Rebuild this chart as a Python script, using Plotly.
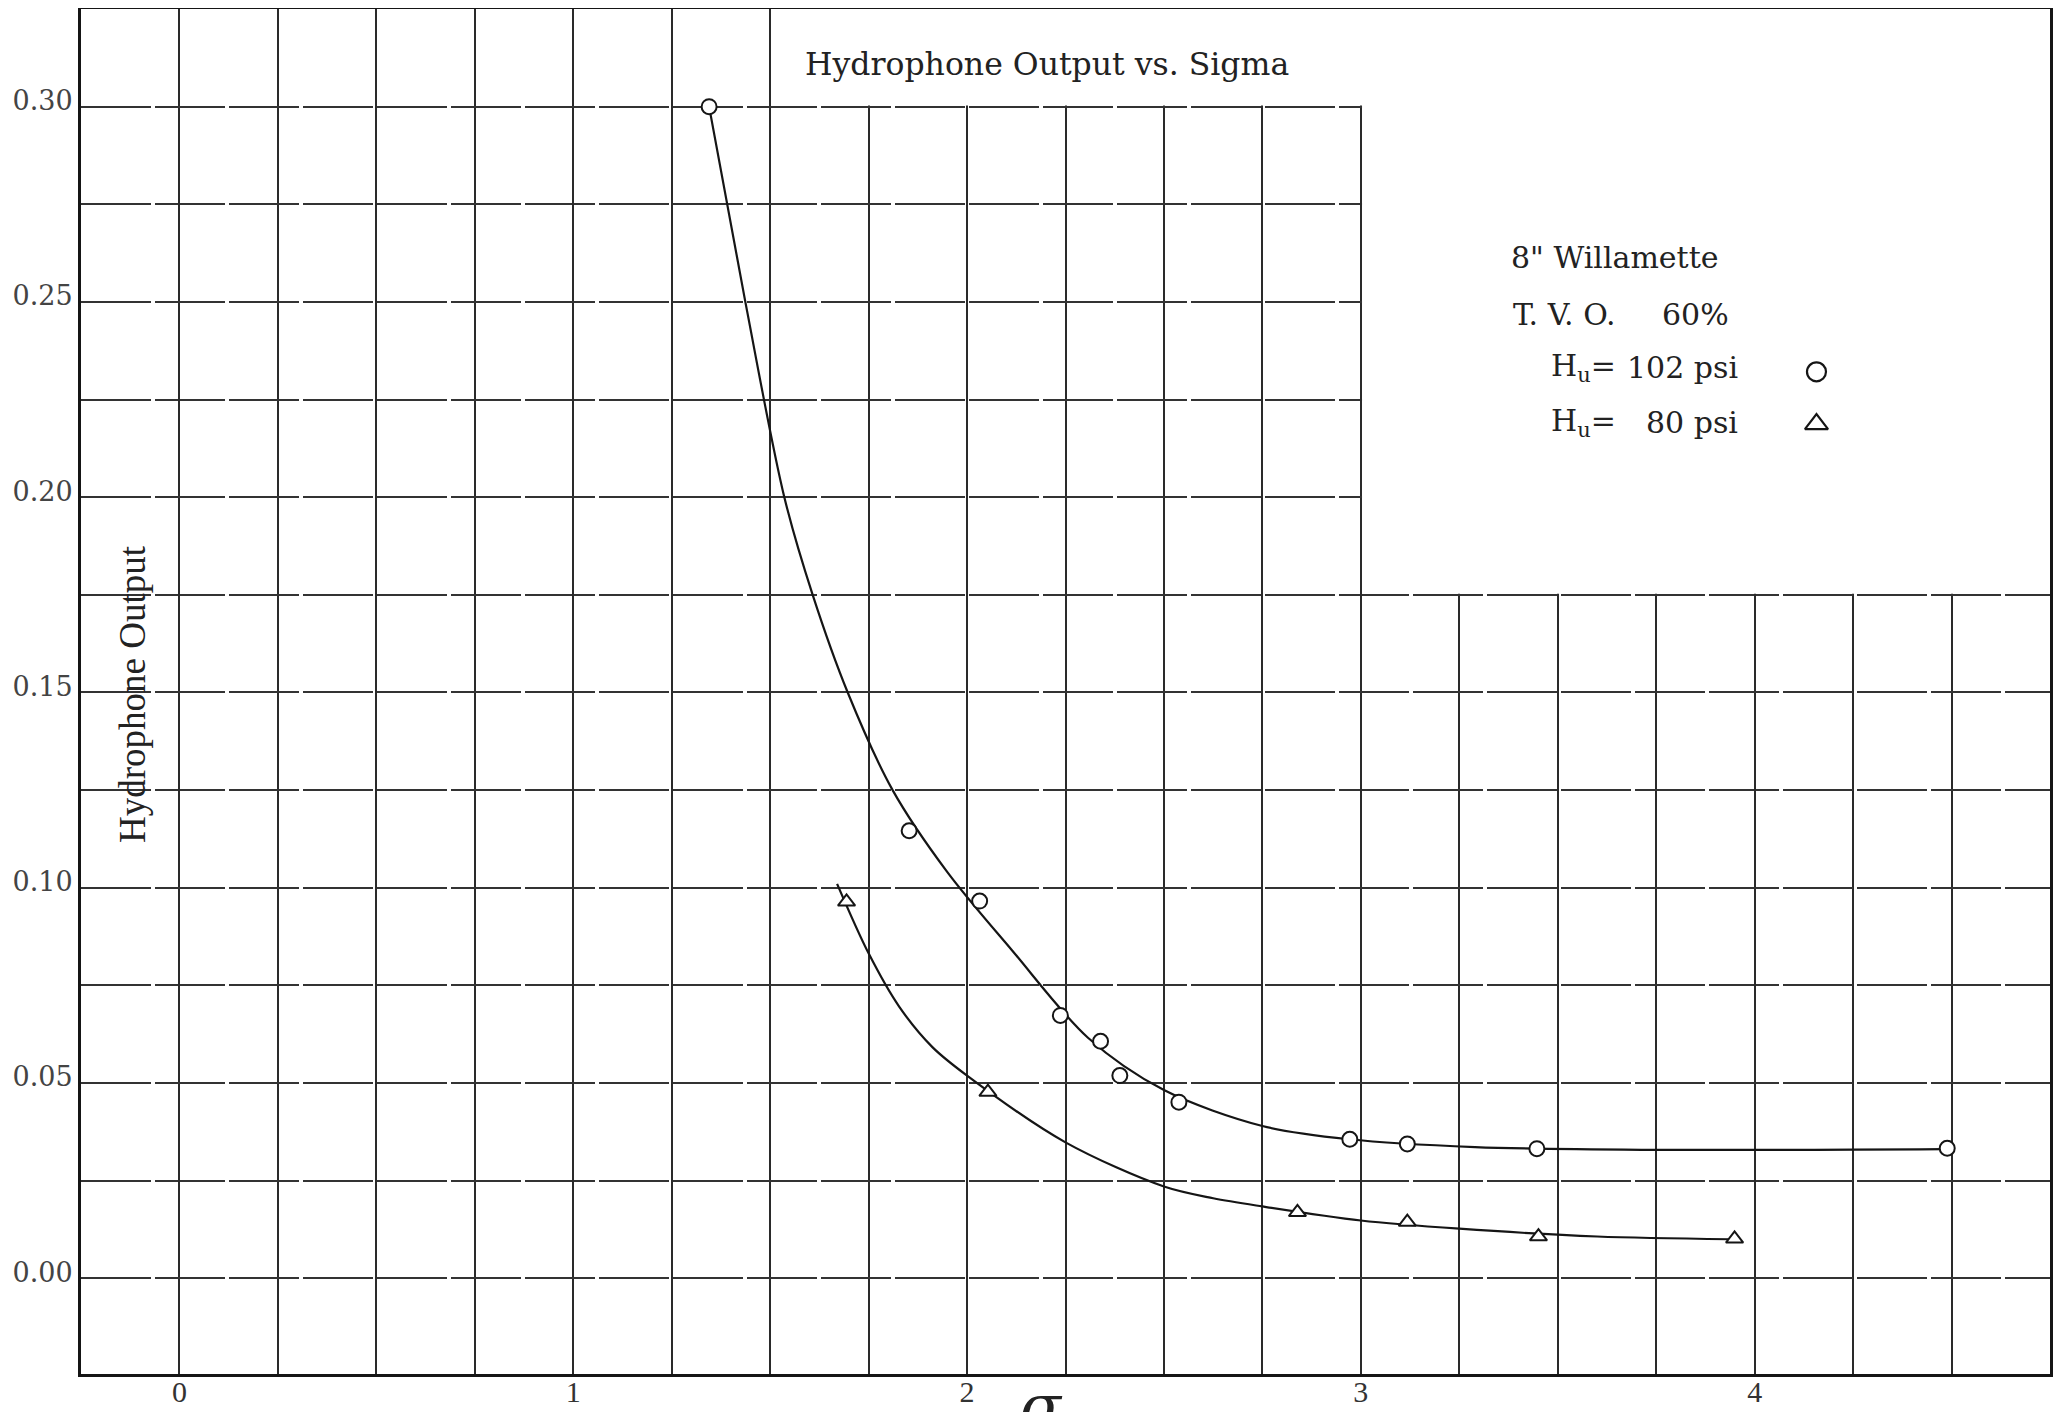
import plotly.graph_objects as go

# ---- data ----
sigma_102 = [1.345, 1.853, 2.032, 2.237, 2.339, 2.388, 2.538, 2.972, 3.118, 3.447, 4.489]
output_102 = [0.300, 0.1146, 0.0966, 0.0673, 0.0607, 0.0519, 0.0451, 0.0356, 0.0344, 0.0332, 0.0333]

sigma_80 = [1.694, 2.053, 2.839, 3.118, 3.451, 3.949]
output_80 = [0.0964, 0.0477, 0.0169, 0.0144, 0.0107, 0.0101]

# hand-drawn fitted curves
curve_102_x = [1.345, 1.437, 1.536, 1.608, 1.697, 1.811, 1.95, 2.114, 2.307, 2.5,
               2.75, 2.97, 3.29, 3.712, 4.48]
curve_102_y = [0.300, 0.25, 0.20, 0.175, 0.15, 0.125, 0.104, 0.084, 0.0616, 0.0482,
               0.039, 0.0356, 0.0336, 0.0329, 0.0331]

curve_80_x = [1.670, 1.75, 1.828, 1.912, 2.0, 2.25, 2.5, 2.625, 2.75, 3.0, 3.25, 3.6, 3.937]
curve_80_y = [0.101, 0.0832, 0.0695, 0.0592, 0.0519, 0.0348, 0.0235, 0.0205, 0.0184, 0.0148,
              0.0127, 0.0107, 0.0100]

x_tick_vals = [0, 1, 2, 3, 4]
x_tick_text = ["0", "1", "2", "3", "4"]
y_tick_vals = [0.00, 0.05, 0.10, 0.15, 0.20, 0.25, 0.30]
y_tick_text = ["0.00", "0.05", "0.10", "0.15", "0.20", "0.25", "0.30"]

title_text = "Hydrophone Output vs. Sigma"
y_title = "Hydrophone Output"

INK = "#151515"
SERIF = "Liberation Serif"
WIDE = "DejaVu Serif"

fig = go.Figure()

fig.add_trace(go.Scatter(x=curve_102_x, y=curve_102_y, mode="lines",
                         line=dict(color=INK, width=2.2, shape="spline", smoothing=0.9),
                         hoverinfo="skip", showlegend=False))
fig.add_trace(go.Scatter(x=curve_80_x, y=curve_80_y, mode="lines",
                         line=dict(color=INK, width=2.2, shape="spline", smoothing=0.9),
                         hoverinfo="skip", showlegend=False))
fig.add_trace(go.Scatter(x=sigma_102, y=output_102, mode="markers",
                         marker=dict(symbol="circle", size=15, color="white",
                                     line=dict(color=INK, width=2)),
                         showlegend=False))
fig.add_trace(go.Scatter(x=sigma_80, y=output_80, mode="markers",
                         marker=dict(symbol="triangle-up", size=15, color="white",
                                     line=dict(color=INK, width=2)),
                         showlegend=False))

# legend key symbols
fig.add_trace(go.Scatter(x=[4.157], y=[0.2321], mode="markers",
                         marker=dict(symbol="circle", size=19, color="white",
                                     line=dict(color=INK, width=2.2)),
                         showlegend=False, hoverinfo="skip"))
fig.add_trace(go.Scatter(x=[4.157], y=[0.2187], mode="markers",
                         marker=dict(symbol="triangle-up", size=20, color="white",
                                     line=dict(color=INK, width=2.2)),
                         showlegend=False, hoverinfo="skip"))

# white areas of the sheet without grid
fig.add_shape(type="rect", xref="x", yref="y", x0=1.503, x1=4.75, y0=0.3003, y1=0.325,
              fillcolor="white", line=dict(width=0), layer="between")
fig.add_shape(type="rect", xref="x", yref="y", x0=3.003, x1=4.75, y0=0.1753, y1=0.325,
              fillcolor="white", line=dict(width=0), layer="between")

ann = []
ann.append(dict(x=1.583, y=0.3108, xref="x", yref="y", text=title_text, showarrow=False,
                xanchor="left", yanchor="middle", font=dict(family=WIDE, size=31.5, color="#222")))
ann.append(dict(x=-0.1206, y=0.1496, xref="x", yref="y", text=y_title, showarrow=False,
                textangle=-90, xanchor="center", yanchor="middle",
                font=dict(family=SERIF, size=37, color="#222")))
leg_font = dict(family=WIDE, size=30, color="#222")
ann.append(dict(x=3.376, y=0.2613, xref="x", yref="y", text="8\" Willamette", showarrow=False,
                xanchor="left", yanchor="middle", font=leg_font))
ann.append(dict(x=3.381, y=0.2469, xref="x", yref="y", text="T. V. O.", showarrow=False,
                xanchor="left", yanchor="middle", font=leg_font))
ann.append(dict(x=3.76, y=0.2469, xref="x", yref="y", text="60%", showarrow=False,
                xanchor="left", yanchor="middle", font=leg_font))
ann.append(dict(x=3.478, y=0.2331, xref="x", yref="y", text="H<sub>u</sub>=", showarrow=False,
                xanchor="left", yanchor="middle", font=leg_font))
ann.append(dict(x=3.962, y=0.2331, xref="x", yref="y", text="102 psi", showarrow=False,
                xanchor="right", yanchor="middle", font=leg_font))
ann.append(dict(x=3.478, y=0.2190, xref="x", yref="y", text="H<sub>u</sub>=", showarrow=False,
                xanchor="left", yanchor="middle", font=leg_font))
ann.append(dict(x=3.962, y=0.2190, xref="x", yref="y", text="80 psi", showarrow=False,
                xanchor="right", yanchor="middle", font=leg_font))
# x axis symbol (sigma), mostly below the page edge as in the scan
ann.append(dict(x=2.19, y=0.004, xref="x", yref="paper", text="<i>σ</i>", showarrow=False,
                xanchor="center", yanchor="top", font=dict(family=WIDE, size=60, color="#222")))

# the page body adds an 8 px offset; the figure is sized so that it ends at the window edge
fig.update_layout(
    width=2054, height=1404, autosize=False,
    margin=dict(l=73, r=12, t=1, b=38, pad=0),
    paper_bgcolor="white", plot_bgcolor="white",
    font=dict(family=SERIF, color="#222"),
    annotations=ann,
    xaxis=dict(range=[-0.25, 4.75], tickvals=x_tick_vals, ticktext=x_tick_text,
               automargin=False,
               showgrid=True, gridcolor="#2a2a2a", gridwidth=1.7,
               minor=dict(dtick=0.25, tick0=0, showgrid=True, gridcolor="#2a2a2a", gridwidth=1.7),
               zeroline=False, showline=True, mirror=True, linecolor=INK, linewidth=3,
               ticks="", tickfont=dict(family=SERIF, size=30, color="#333"),
               ticklabelstandoff=-11),
    yaxis=dict(range=[-0.0245, 0.325], tickvals=y_tick_vals, ticktext=y_tick_text,
               automargin=False,
               showgrid=True, gridcolor="#333", gridwidth=1.7, griddash="70px,4px",
               minor=dict(dtick=0.025, tick0=0, showgrid=True, gridcolor="#333", gridwidth=1.7,
                          griddash="70px,4px"),
               zeroline=False, showline=True, mirror=True, linecolor=INK, linewidth=3,
               ticks="", tickfont=dict(family=WIDE, size=27, color="#444"),
               ticklabelshift=-6),
)

fig.write_html("out.html")
